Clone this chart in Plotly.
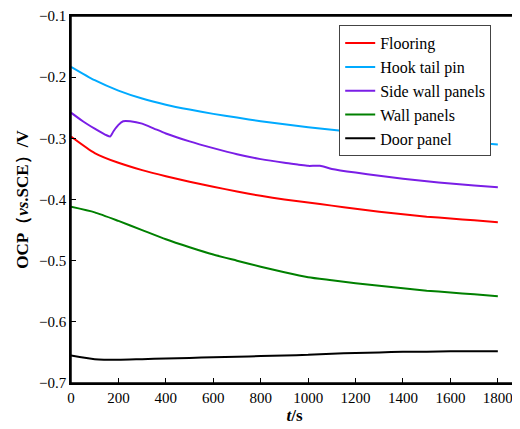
import plotly.graph_objects as go

t_main = [0, 100, 200, 300, 400, 500, 600, 700, 800, 900, 1000, 1100, 1200, 1300, 1400, 1500, 1600, 1700, 1800]
flooring = [-0.297, -0.324, -0.340, -0.352, -0.362, -0.371, -0.379, -0.387, -0.394, -0.400, -0.405, -0.410, -0.415, -0.420, -0.424, -0.428, -0.431, -0.434, -0.437]
hook = [-0.183, -0.205, -0.222, -0.235, -0.245, -0.253, -0.260, -0.266, -0.272, -0.277, -0.282, -0.286, -0.290, -0.294, -0.298, -0.301, -0.304, -0.307, -0.310]
wall = [-0.412, -0.421, -0.435, -0.450, -0.465, -0.478, -0.490, -0.500, -0.510, -0.519, -0.527, -0.532, -0.537, -0.541, -0.545, -0.549, -0.552, -0.555, -0.558]
door = [-0.655, -0.661, -0.662, -0.661, -0.660, -0.659, -0.658, -0.657, -0.656, -0.655, -0.654, -0.652, -0.651, -0.650, -0.649, -0.649, -0.648, -0.648, -0.648]
t_side = [0, 50, 100, 150, 165, 180, 200, 220, 250, 300, 350, 400, 500, 600, 700, 800, 900, 960, 1000, 1050, 1100, 1200, 1300, 1400, 1500, 1600, 1700, 1800]
side = [-0.258, -0.272, -0.284, -0.295, -0.297, -0.288, -0.278, -0.272, -0.272, -0.276, -0.284, -0.292, -0.305, -0.316, -0.326, -0.334, -0.340, -0.343, -0.345, -0.345, -0.350, -0.356, -0.361, -0.366, -0.370, -0.374, -0.377, -0.380]

fig = go.Figure()
for name, x, y, c in [("Flooring", t_main, flooring, "#ff0000"),
                      ("Hook tail pin", t_main, hook, "#00aaff"),
                      ("Side wall panels", t_side, side, "#7a1ee6"),
                      ("Wall panels", t_main, wall, "#008000"),
                      ("Door panel", t_main, door, "#000000")]:
    fig.add_trace(go.Scatter(x=x, y=y, name=name, mode="lines",
                             line=dict(color=c, width=2, shape="spline", smoothing=0.6)))

axis = dict(showline=True, linecolor="black", linewidth=1.5, mirror=True, ticks="inside",
            ticklen=5, tickcolor="black", showgrid=False, zeroline=False, automargin=False,
            tickfont=dict(family="Liberation Serif", size=15, color="black"))
fig.update_layout(
    width=520, height=429, margin=dict(l=63, r=10, t=8, b=54),
    plot_bgcolor="white", paper_bgcolor="white",
    xaxis=dict(axis, range=[0, 1885], tickvals=list(range(0, 1801, 200)),
               title=dict(text="<b><i>t</i>/s</b>", font=dict(family="Liberation Serif", size=17, color="black"), standoff=4)),
    yaxis=dict(axis, range=[-0.7, -0.1], dtick=0.1, tickformat=".1f",
               title=dict(text="<b>OCP（<i>vs</i>.SCE）/V</b>", font=dict(family="Liberation Serif", size=17, color="black"), standoff=6)),
    legend=dict(x=0.6, y=0.975, xanchor="left", yanchor="top", bordercolor="#444", borderwidth=1,
                bgcolor="white", font=dict(family="Liberation Serif", size=16, color="black"),
                tracegroupgap=0, itemwidth=30),
    shapes=[dict(type="rect", xref="paper", yref="paper", x0=0, y0=0, x1=1, y1=1,
                 line=dict(color="black", width=1.5), layer="above")],
)
fig.write_html("out.html")
